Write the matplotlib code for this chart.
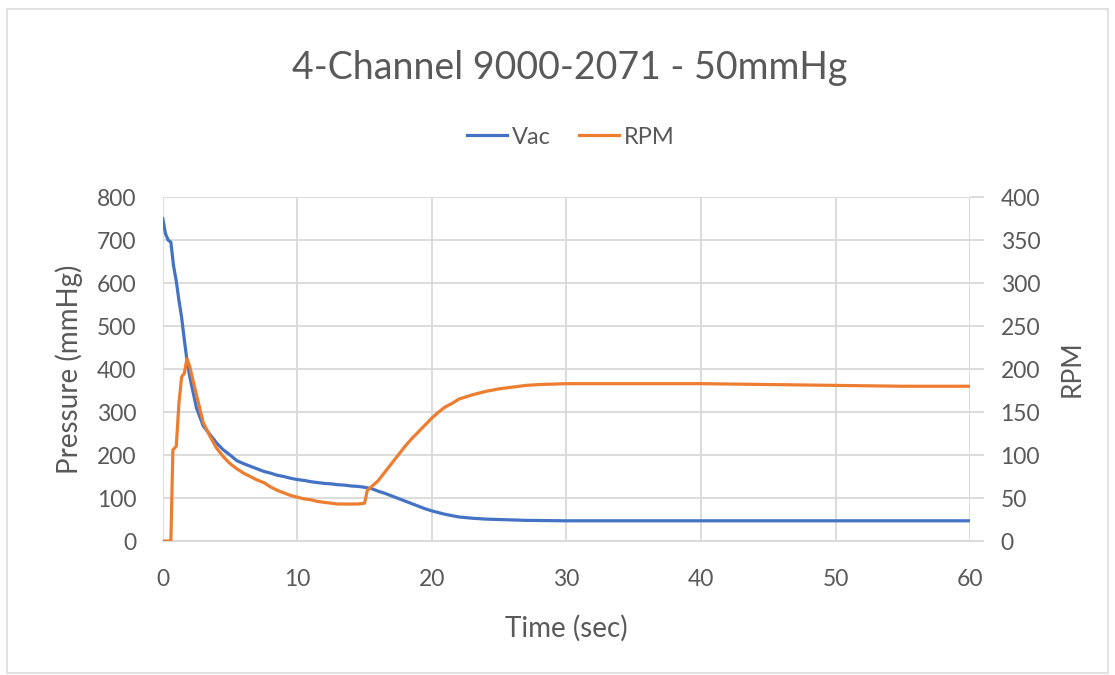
import matplotlib.pyplot as plt
from matplotlib.patches import Rectangle

# data
t_vac = [0, 0.2, 0.4, 0.6, 0.8, 1.0, 1.2, 1.4, 1.6, 1.8, 2.0, 2.5, 3.0, 3.5, 4.0,
         4.5, 5.0, 5.5, 6.0, 6.5, 7.0, 7.5, 8.0, 8.5, 9.0, 9.5, 10.0, 10.5, 11.0,
         11.5, 12.0, 12.5, 13.0, 13.5, 14.0, 14.5, 15.0, 15.5, 16.0, 16.5, 17.0,
         17.5, 18.0, 18.5, 19.0, 19.5, 20.0, 20.5, 21.0, 21.5, 22.0, 23.0, 24.0,
         25.0, 27.0, 30.0, 40.0, 50.0, 60.0]
vac = [750, 715, 700, 695, 640, 605, 560, 520, 468, 420, 383, 310, 268, 248, 228,
       212, 200, 187, 180, 174, 168, 162, 158, 153, 150, 146, 143, 141, 138,
       136, 134, 133, 131, 130, 128, 127, 125, 122, 116, 111, 105,
       99, 93, 87, 81, 75, 70, 66, 62, 59, 56, 53, 51,
       50, 48, 47, 47, 47, 47]

t_rpm = [0, 0.5, 0.6, 0.75, 1.0, 1.2, 1.4, 1.6, 1.8, 2.0, 2.5, 3.0, 3.5, 4.0, 4.5,
         5.0, 5.5, 6.0, 6.5, 7.0, 7.5, 8.0, 8.5, 9.0, 9.5, 10.0, 10.5, 11.0, 11.5,
         12.0, 12.5, 13.0, 13.5, 14.0, 14.5, 15.0, 15.2, 15.5, 16.0, 16.5, 17.0,
         17.5, 18.0, 18.5, 19.0, 19.5, 20.0, 20.5, 21.0, 21.5, 22.0, 23.0, 24.0,
         25.0, 26.0, 27.0, 28.0, 30.0, 35.0, 40.0, 45.0, 50.0, 55.0, 60.0]
rpm = [0, 0, 0, 106, 110, 160, 191, 195, 212, 203, 170, 138, 122, 108, 98,
       90, 84, 79, 75, 71, 68, 63, 59, 56, 53, 51, 49, 48, 46,
       45, 44, 43, 43, 43, 43, 44, 59, 63, 70, 80, 90,
       100, 110, 119, 127, 135, 143, 150, 156, 160, 165, 170, 174,
       177, 179, 181, 182, 183, 183, 183, 182, 181, 180, 180]

title = "4-Channel 9000-2071 - 50mmHg"
blue = "#4472C4"
orange = "#ED7D31"
grid_c = "#D9D9D9"
text_c = "#595959"

plt.rcParams['font.family'] = ['Lato', 'DejaVu Sans']

fig = plt.figure(figsize=(11.15, 6.75), dpi=100)
# light chart-area border like the Excel export
fig.patches.append(Rectangle((0.0063, 0.003), 0.9874, 0.9837, transform=fig.transFigure,
                             fill=False, edgecolor="#DDDDDD", lw=1.2))

ax = fig.add_axes([0.146, 0.1985, 0.724, 0.5095])
ax2 = ax.twinx()

l1, = ax.plot(t_vac, vac, color=blue, lw=2.3, label="Vac")
l2, = ax2.plot(t_rpm, rpm, color=orange, lw=2.3, label="RPM")

ax.set_xlim(0, 60)
ax.set_ylim(0, 800)
ax2.set_ylim(0, 400)
ax.set_xticks(range(0, 61, 10))
ax.set_yticks(range(0, 801, 100))
ax2.set_yticks(range(0, 401, 50))

ax.grid(True, color=grid_c, lw=1.3)
ax.set_axisbelow(True)
for a in (ax, ax2):
    for s in a.spines.values():
        s.set_visible(False)
ax.spines['bottom'].set_visible(True)
ax.spines['bottom'].set_color(grid_c)
ax.spines['bottom'].set_linewidth(1.3)

ax.tick_params(axis='y', length=0, labelsize=16.5, labelcolor=text_c, pad=19)
ax.tick_params(axis='x', length=0, labelsize=16.5, labelcolor=text_c, pad=20)
ax2.tick_params(axis='y', length=10, width=1.3, color=grid_c, labelsize=16.5,
                labelcolor=text_c, pad=12)

ax.set_xlabel("Time (sec)", fontsize=20, color=text_c, labelpad=18)
ax.set_ylabel("Pressure (mmHg)", fontsize=20, color=text_c, labelpad=10)
ax2.set_ylabel("RPM", fontsize=19, color=text_c, labelpad=14)

fig.text(0.511, 0.899, title, ha='center', va='center', fontsize=27, color=text_c)
fig.legend(handles=[l1, l2], loc='center', bbox_to_anchor=(0.512, 0.797), ncol=2,
           frameon=False, fontsize=17, labelcolor=text_c, handlelength=1.7,
           handletextpad=0.2, columnspacing=1.2)

fig.savefig("out.png", dpi=100)
